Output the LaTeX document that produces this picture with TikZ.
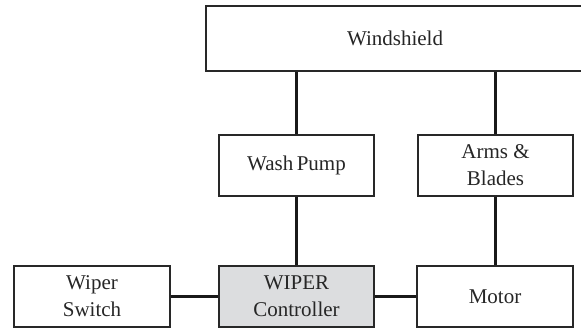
\documentclass[tikz,border=0pt]{standalone}
\usepackage{fontspec}
\setmainfont{Liberation Serif}
\usepackage{xcolor}
\usetikzlibrary{positioning}
\definecolor{ctrlgray}{RGB}{220,221,223}
\definecolor{boxline}{RGB}{40,40,40}

\begin{document}
\begin{tikzpicture}[x=1pt, y=-1pt,
  blk/.style={draw=boxline, line width=1.6pt, fill=white, align=center,
    minimum width=155pt, minimum height=61pt, inner sep=0pt,
    font=\fontsize{21}{27}\selectfont, text=black!85},
  wire/.style={line width=2.6pt, black!90}]
\useasboundingbox (0,0) rectangle (581,328);

% Connectors first, boxes on top
\coordinate (wsL) at (296.5,71);
\coordinate (wsR) at (495.5,71);

% Boxes
\node[blk, minimum width=378pt, minimum height=65pt] (windshield) at (395,38.5) {Windshield};
\node[blk] (pump) at (296.5,165.5) {Wash\,Pump};
\node[blk] (arms) at (495.5,165.5) {Arms \&\\Blades};
\node[blk, minimum width=156pt] (switch) at (92,296.5) {Wiper\\Switch};
\node[blk, fill=ctrlgray] (ctrl) at (296.5,296.5) {WIPER\\Controller};
\node[blk, minimum width=156pt] (motor) at (495,296.5) {Motor};

% Wires
\draw[wire] (pump.north) -- (pump.north |- windshield.south);
\draw[wire] (arms.north) -- (arms.north |- windshield.south);
\draw[wire] (pump.south) -- (ctrl.north);
\draw[wire] (arms.south) -- (arms.south |- motor.north);
\draw[wire] (switch.east) -- (ctrl.west);
\draw[wire] (ctrl.east) -- (motor.west);

\end{tikzpicture}
\end{document}
